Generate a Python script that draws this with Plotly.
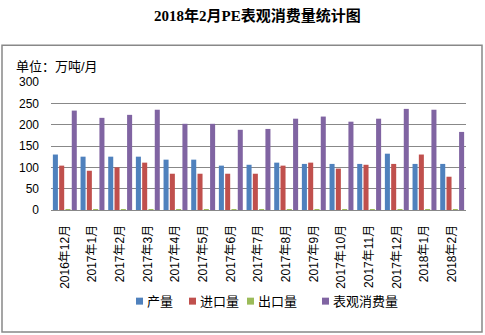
import plotly.graph_objects as go

categories = ["2016年12月", "2017年1月", "2017年2月", "2017年3月", "2017年4月", "2017年5月",
              "2017年6月", "2017年7月", "2017年8月", "2017年9月", "2017年10月", "2017年11月",
              "2017年12月", "2018年1月", "2018年2月"]
production = [130, 125, 125, 125, 118, 118, 104, 106, 111, 108, 108, 108, 132, 108, 108]
imports = [104, 92, 100, 111, 85, 85, 85, 85, 104, 111, 97, 106, 108, 130, 78]
exports = [1.2, 1.0, 1.1, 1.3, 1.2, 1.0, 1.1, 1.2, 1.3, 1.1, 1.2, 1.3, 1.2, 1.0, 1.1]
consumption = [233, 216, 223, 235, 202, 202, 188, 190, 214, 219, 207, 214, 237, 235, 183]
y_ticks = [0, 50, 100, 150, 200, 250, 300]

series_names = ["产量", "进口量", "出口量", "表观消费量"]
colors = ["#4F81BD", "#C0504D", "#9BBB59", "#8064A2"]

fig = go.Figure()
for name, vals, c in zip(series_names, [production, imports, exports, consumption], colors):
    fig.add_trace(go.Bar(x=categories, y=vals, name=name, showlegend=False,
                         marker=dict(color=c, line=dict(width=0))))

W, H = 485, 335
L, R, T, B = 51, 19, 82, 124.5
pw, ph = W - L - R, H - T - B

def px(x):
    return (x - L) / pw

def py(y):
    return (H - B - y) / ph

font_cjk = "Liberation Sans, Noto Sans CJK SC, sans-serif"

shapes = [dict(type="rect", xref="paper", yref="paper",
               x0=px(2), x1=px(482), y0=py(333), y1=py(45),
               line=dict(color="#888888", width=1.5), fillcolor="rgba(0,0,0,0)", layer="below")]
annotations = [
    dict(text="<b>2018年2月PE表观消费量统计图</b>", xref="paper", yref="paper",
         x=px(257), y=py(15), xanchor="center", yanchor="middle", showarrow=False,
         font=dict(family="Liberation Serif, Noto Sans CJK SC, serif", size=15, color="black")),
    dict(text="单位：万吨/月", xref="paper", yref="paper",
         x=px(14), y=py(66), xanchor="left", yanchor="middle", showarrow=False,
         font=dict(family=font_cjk, size=13, color="black")),
]

# legend: square left edges (pixels), legend row centre
legend_sq_x = [136, 189, 247, 322]
legend_y = 302
for name, c, sx in zip(series_names, colors, legend_sq_x):
    shapes.append(dict(type="rect", xref="paper", yref="paper",
                       x0=px(sx), x1=px(sx + 7), y0=py(legend_y + 3.5), y1=py(legend_y - 3.5),
                       line=dict(width=0), fillcolor=c))
    annotations.append(dict(text=name, xref="paper", yref="paper", x=px(sx + 9), y=py(legend_y),
                            xanchor="left", yanchor="middle", showarrow=False,
                            font=dict(family=font_cjk, size=13, color="black")))

fig.update_layout(
    width=W, height=H,
    margin=dict(l=L, r=R, t=T, b=B, pad=0),
    paper_bgcolor="white", plot_bgcolor="white",
    barmode="group", bargap=0.09, bargroupgap=0.2,
    showlegend=False,
    font=dict(family=font_cjk, size=12, color="black"),
    xaxis=dict(tickangle=-90, tickfont=dict(family=font_cjk, size=12, color="black"),
               showgrid=False, showline=True, linecolor="#888888", linewidth=1,
               ticks="", zeroline=False, ticklabelstandoff=9),
    yaxis=dict(range=[0, 300], tickvals=y_ticks, showgrid=True, gridcolor="#888888", gridwidth=1,
               zeroline=False, showline=False, ticks="",
               tickfont=dict(family="Liberation Sans, sans-serif", size=12, color="black"),
               ticklabelstandoff=11),
    shapes=shapes,
    annotations=annotations,
)

fig.write_html("out.html")
